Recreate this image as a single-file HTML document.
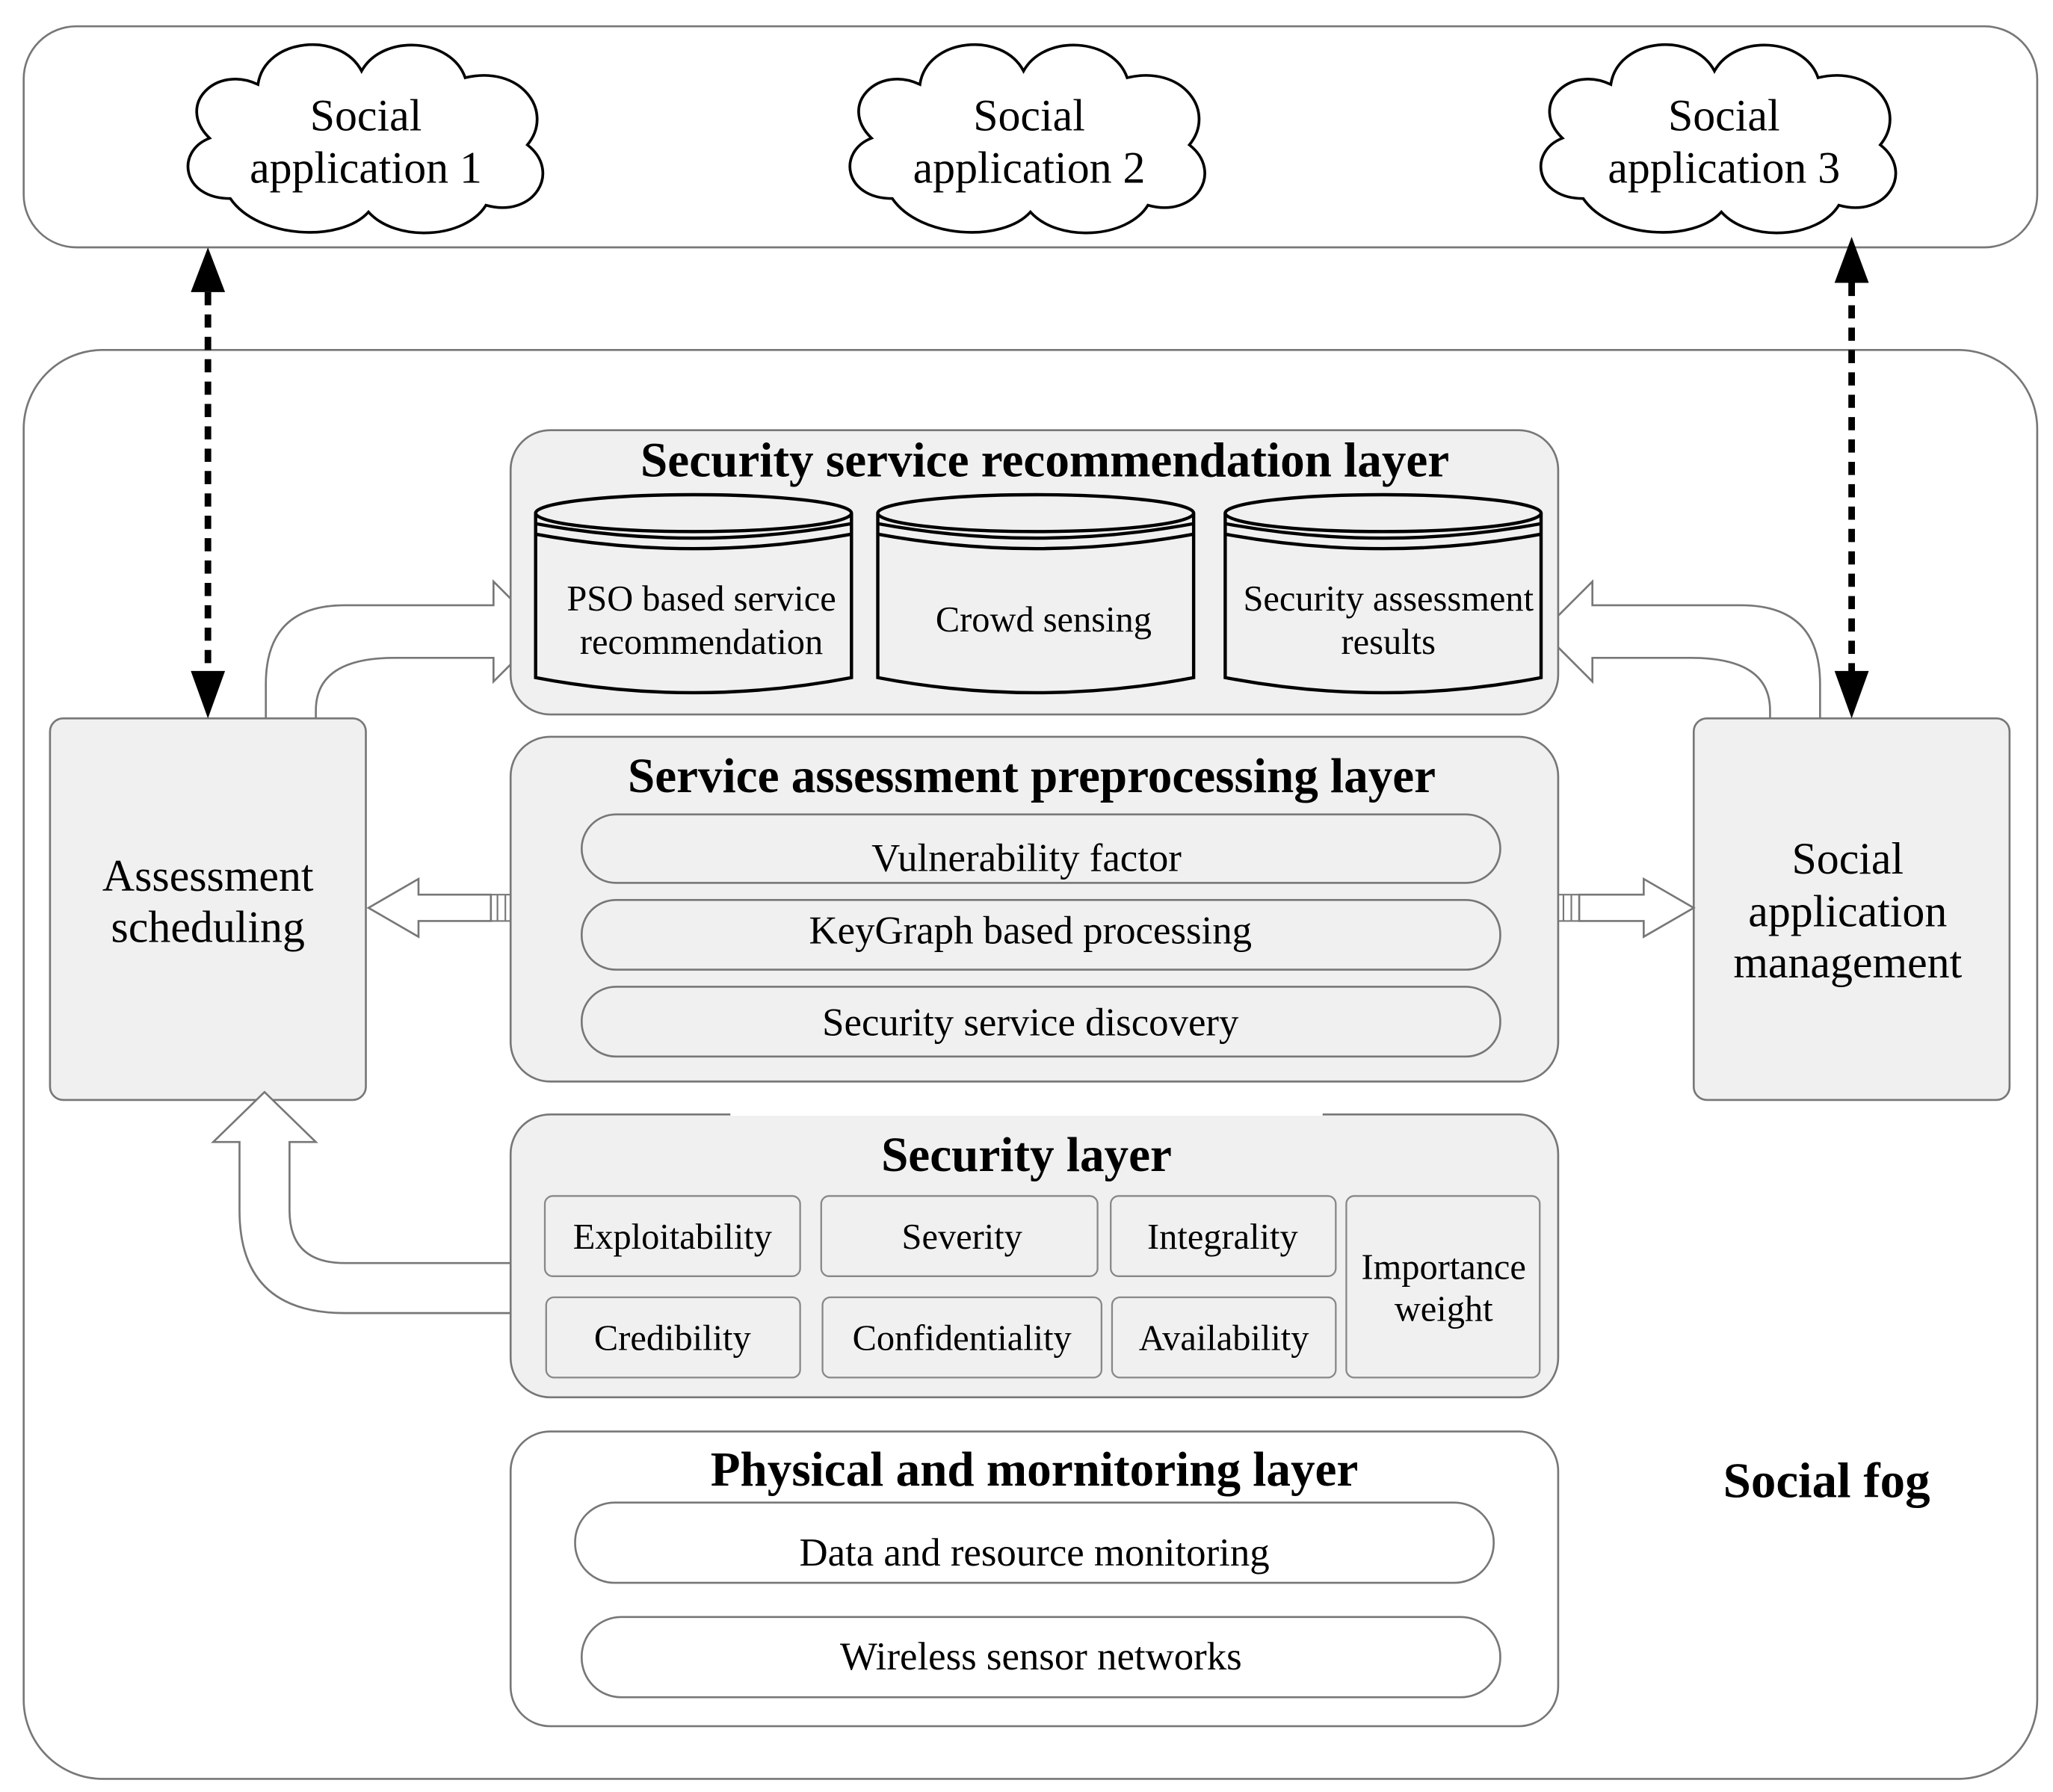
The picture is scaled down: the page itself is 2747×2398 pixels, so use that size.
<!DOCTYPE html>
<html><head><meta charset="utf-8"><style>
html,body{margin:0;padding:0;background:#fff;}
svg{display:block;}
text{font-family:"Liberation Serif",serif;fill:#000;}
</style></head><body>
<svg width="2747" height="2398" viewBox="0 0 1560 1362" preserveAspectRatio="none" xmlns="http://www.w3.org/2000/svg">
<defs>
<g id="cloud">
<path d="M-100,45 C-135,45 -140,10 -115,0 C-140,-25 -110,-55 -80,-40 C-75,-75 -20,-80 -5,-50 C10,-78 60,-75 70,-45 C110,-55 135,-20 115,5 C140,25 120,60 85,50 C70,75 20,78 0,55 C-20,78 -80,75 -100,45 Z" fill="#fff" stroke="#000" stroke-width="2"/>
</g>
</defs>
<rect x="18" y="20" width="1530" height="168" rx="40" fill="#fff" stroke="#777" stroke-width="1.5"/>
<use href="#cloud" transform="translate(280,105) scale(1.05,1.02)"/>
<use href="#cloud" transform="translate(783,105) scale(1.05,1.02)"/>
<use href="#cloud" transform="translate(1308,105) scale(1.05,1.02)"/>
<g font-size="34" text-anchor="middle">
<text x="278" y="99">Social</text><text x="278" y="139">application 1</text>
<text x="782" y="99">Social</text><text x="782" y="139">application 2</text>
<text x="1310" y="99">Social</text><text x="1310" y="139">application 3</text>
</g>
<rect x="18" y="266" width="1530" height="1086" rx="60" fill="#fff" stroke="#777" stroke-width="1.5"/>

<path d="M202,553 L202,520 Q202,460 262,460 L375,460 L375,442 L413,480 L375,518 L375,500 L300,500 Q240,500 240,540 L240,553 Z" fill="#fff" stroke="#777" stroke-width="1.5"/>
<path d="M1383,553 L1383,520 Q1383,460 1323,460 L1210,460 L1210,442 L1172,480 L1210,518 L1210,500 L1285,500 Q1345,500 1345,540 L1345,553 Z" fill="#fff" stroke="#777" stroke-width="1.5"/>

<rect x="388" y="327" width="796" height="216" rx="30" fill="#f0f0f0" stroke="#777" stroke-width="1.5"/>
<text x="794" y="362" font-size="37" font-weight="bold" text-anchor="middle">Security service recommendation layer</text>
<g fill="#f0f0f0" stroke="#000" stroke-width="2.5">
<path d="M407,390 L407,515 Q527,538 647,515 L647,390"/>
<ellipse cx="527" cy="390" rx="120" ry="14"/><path d="M407,398 Q527,420 647,398 M407,406 Q527,428 647,406" fill="none"/>
<path d="M667,390 L667,515 Q787,538 907,515 L907,390"/>
<ellipse cx="787" cy="390" rx="120" ry="14"/><path d="M667,398 Q787,420 907,398 M667,406 Q787,428 907,406" fill="none"/>
<path d="M931,390 L931,515 Q1051,538 1171,515 L1171,390"/>
<ellipse cx="1051" cy="390" rx="120" ry="14"/><path d="M931,398 Q1051,420 1171,398 M931,406 Q1051,428 1171,406" fill="none"/>
</g>
<g font-size="27.5" text-anchor="middle">
<text x="533" y="464">PSO based service</text><text x="533" y="497">recommendation</text>
<text x="793" y="480">Crowd sensing</text>
<text x="1055" y="464">Security assessment</text><text x="1055" y="497">results</text>
</g>

<rect x="38" y="546" width="240" height="290" rx="10" fill="#f0f0f0" stroke="#777" stroke-width="1.5"/>
<text x="158" y="677" font-size="34" text-anchor="middle">Assessment</text>
<text x="158" y="716" font-size="34" text-anchor="middle">scheduling</text>
<rect x="1287" y="546" width="240" height="290" rx="10" fill="#f0f0f0" stroke="#777" stroke-width="1.5"/>
<text x="1404" y="664" font-size="34" text-anchor="middle">Social</text>
<text x="1404" y="704" font-size="34" text-anchor="middle">application</text>
<text x="1404" y="743" font-size="34" text-anchor="middle">management</text>

<g stroke="#000" stroke-width="5" stroke-dasharray="10,7">
<line x1="158" y1="222" x2="158" y2="512"/>
<line x1="1407" y1="215" x2="1407" y2="512"/>
</g>
<g fill="#000">
<polygon points="145,222 171,222 158,188"/><polygon points="145,510 171,510 158,546"/>
<polygon points="1394,215 1420,215 1407,180"/><polygon points="1394,510 1420,510 1407,546"/>
</g>

<path d="M388,680 L373,680 L373,700 L388,700 M384,680 L384,700 M378,680 L378,700" fill="none" stroke="#777" stroke-width="1.2"/>
<path d="M373,680 L318,680 L318,668 L280,690 L318,712 L318,700 L373,700 Z" fill="#fff" stroke="#777" stroke-width="1.5"/>
<path d="M1184,680 L1200,680 L1200,700 L1184,700 M1188,680 L1188,700 M1194,680 L1194,700" fill="none" stroke="#777" stroke-width="1.2"/>
<path d="M1200,680 L1249,680 L1249,668 L1287,690 L1249,712 L1249,700 L1200,700 Z" fill="#fff" stroke="#777" stroke-width="1.5"/>

<rect x="388" y="560" width="796" height="262" rx="30" fill="#f0f0f0" stroke="#777" stroke-width="1.5"/>
<text x="784" y="602" font-size="37" font-weight="bold" text-anchor="middle">Service assessment preprocessing layer</text>
<g fill="#f0f0f0" stroke="#777" stroke-width="1.5">
<rect x="442" y="619" width="698" height="52" rx="26"/>
<rect x="442" y="684" width="698" height="53" rx="26"/>
<rect x="442" y="750" width="698" height="53" rx="26"/>
</g>
<g font-size="30" text-anchor="middle">
<text x="780" y="662">Vulnerability factor</text>
<text x="783" y="717">KeyGraph based processing</text>
<text x="783" y="787">Security service discovery</text>
</g>

<path d="M395,998 L262,998 Q182,998 182,920 L182,868 L162,868 L201,830 L240,868 L220,868 L220,920 Q220,960 262,960 L395,960 Z" fill="#fff" stroke="#777" stroke-width="1.5"/>

<rect x="388" y="847" width="796" height="215" rx="30" fill="#f0f0f0" stroke="#777" stroke-width="1.5"/>
<line x1="555" y1="847" x2="1005" y2="847" stroke="#fff" stroke-width="2"/>
<text x="780" y="890" font-size="37" font-weight="bold" text-anchor="middle">Security layer</text>
<g fill="#f0f0f0" stroke="#888" stroke-width="1.3">
<rect x="414" y="909" width="194" height="61" rx="6"/>
<rect x="624" y="909" width="210" height="61" rx="6"/>
<rect x="844" y="909" width="171" height="61" rx="6"/>
<rect x="415" y="986" width="193" height="61" rx="6"/>
<rect x="625" y="986" width="212" height="61" rx="6"/>
<rect x="845" y="986" width="170" height="61" rx="6"/>
<rect x="1023" y="909" width="147" height="138" rx="6"/>
</g>
<g font-size="27.5" text-anchor="middle">
<text x="511" y="949">Exploitability</text>
<text x="731" y="949">Severity</text>
<text x="929" y="949">Integrality</text>
<text x="511" y="1026">Credibility</text>
<text x="731" y="1026">Confidentiality</text>
<text x="930" y="1026">Availability</text>
<text x="1097" y="972">Importance</text>
<text x="1097" y="1004">weight</text>
</g>

<rect x="388" y="1088" width="796" height="224" rx="30" fill="#fff" stroke="#777" stroke-width="1.5"/>
<text x="786" y="1129" font-size="37" font-weight="bold" text-anchor="middle">Physical and mornitoring layer</text>
<rect x="437" y="1142" width="698" height="61" rx="30" fill="#fff" stroke="#777" stroke-width="1.5"/>
<rect x="442" y="1229" width="698" height="61" rx="30" fill="#fff" stroke="#777" stroke-width="1.5"/>
<text x="786" y="1190" font-size="30" text-anchor="middle">Data and resource monitoring</text>
<text x="791" y="1269" font-size="30" text-anchor="middle">Wireless sensor networks</text>

<text x="1388" y="1138" font-size="38" font-weight="bold" text-anchor="middle">Social fog</text>
</svg>
</body></html>
